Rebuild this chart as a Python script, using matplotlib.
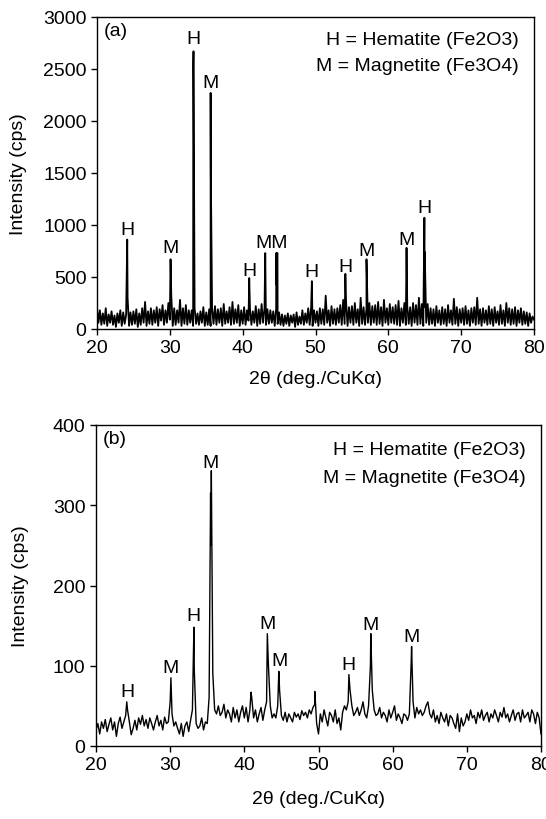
import numpy as np
import matplotlib
matplotlib.use("Agg")
import matplotlib.pyplot as plt

plt.rcParams['font.family'] = ['Liberation Sans', 'DejaVu Sans']

# ---------------- Panel (a) data ----------------
a_start, a_step = 20.0, 0.2
a_background = [
    210, 60, 180, 40, 150,   50, 200, 30, 140, 60,   170, 40, 130, 20, 150,   60, 180, 30, 160, 50,
    140, 300, 30, 160, 40,   170, 50, 190, 20, 150,  40, 200, 60, 260, 30,    170, 50, 200, 40, 180,
    60, 210, 30, 190, 80,    230, 40, 180, 60, 250,  90, 320, 30, 200, 40,    180, 60, 280, 30, 200,
    50, 230, 40, 180, 60,    180, 30, 200, 50, 150,  40, 170, 60, 210, 30,    160, 40, 190, 30, 200,
    50, 220, 40, 190, 60,    200, 30, 240, 50, 170,  60, 210, 40, 260, 50,    190, 60, 230, 30, 180,
    50, 210, 40, 180, 80,    200, 40, 170, 60, 220,  30, 190, 50, 240, 60,    200, 40, 190, 50, 180,
    60, 170, 30, 200, 50,    160, 40, 140, 30, 130,  50, 150, 30, 130, 60,    140, 20, 160, 40, 120,
    50, 180, 40, 150, 60,    200, 40, 210, 30, 180,  60, 170, 30, 200, 50,    190, 40, 320, 60, 180,
    30, 220, 50, 190, 40,    200, 60, 230, 40, 280,  50, 260, 30, 210, 60,    220, 40, 250, 60, 190,
    30, 300, 50, 210, 40,    200, 60, 250, 40, 220,  60, 230, 40, 260, 50,    210, 30, 280, 60, 200,
    40, 240, 60, 210, 50,    230, 40, 270, 30, 200,  60, 250, 40, 220, 50,    210, 30, 250, 60, 230,
    40, 300, 50, 240, 30,    210, 60, 240, 40, 200,  50, 190, 30, 220, 60,    180, 40, 210, 50, 190,
    30, 230, 60, 180, 40,    290, 50, 210, 30, 190,  60, 200, 40, 220, 50,    180, 30, 200, 60, 210,
    40, 300, 50, 190, 30,    200, 60, 180, 40, 220,  50, 190, 30, 210, 60,    170, 40, 230, 50, 180,
    30, 250, 60, 200, 40,    190, 50, 210, 30, 180,  60, 200, 40, 170, 50,    160, 30, 150, 60, 120,
    90,
]
a_peak_x = [24.15, 30.1, 33.22, 33.25, 35.6, 35.63, 40.9, 43.1,
            44.62, 44.68, 44.72, 44.78, 49.5, 54.1, 57.0, 62.5, 64.95, 65.0]
a_peak_y = [860, 670, 2540, 2670, 2270, 1480, 490, 730,
            730, 420, 730, 730, 460, 530, 670, 780, 1070, 740]
a_label_text = ['H', 'M', 'H', 'M', 'H', 'MM', 'H', 'H', 'M', 'M', 'H']
a_label_x = [24.2, 30.1, 33.2, 35.6, 40.9, 44.0, 49.5, 54.1, 57.0, 62.5, 65.0]
a_label_y = [960, 780, 2790, 2375, 560, 830, 550, 605, 750, 865, 1170]

# ---------------- Panel (b) data ----------------
b_start, b_step = 20.0, 0.25
b_background = [
    20, 28, 15, 30,  22, 33, 18, 27,  35, 20, 30, 12,  28, 36, 22, 30,
    38, 45, 30, 14,  22, 32, 20, 35,  27, 38, 25, 33,  22, 35, 28, 20,
    30, 38, 25, 32,  20, 36, 28, 30,  55, 40, 25, 30,  22, 15, 28, 12,
    25, 30, 18, 32,  45, 95, 28, 22,  25, 35, 20, 30,  28, 60, 250, 90,
    45, 40, 50, 38,  42, 52, 35, 45,  40, 30, 48, 35,  45, 30, 42, 50,
    35, 48, 30, 45,  60, 35, 45, 30,  40, 48, 32, 45,  55, 100, 50, 35,
    40, 35, 50, 70,  38, 32, 42, 30,  40, 35, 30, 42,  36, 40, 33, 44,
    38, 42, 35, 45,  40, 48, 52, 28,  15, 40, 30, 45,  35, 25, 42, 38,
    30, 45, 28, 35,  20, 42, 50, 45,  55, 70, 50, 38,  42, 48, 38, 45,
    55, 40, 35, 50,  100, 70, 45, 38, 40, 48, 35, 42,  38, 30, 45, 35,
    42, 50, 32, 40,  35, 28, 40, 38,  32, 40, 105, 55, 35, 48, 40, 45,
    38, 42, 50, 55,  40, 35, 45, 30,  38, 28, 42, 35,  30, 40, 25, 38,
    35, 28, 22, 40,  18, 35, 25, 30,  40, 32, 45, 35,  38, 28, 42, 35,
    45, 32, 38, 42,  30, 40, 35, 45,  38, 30, 42, 36,  48, 35, 40, 30,
    38, 45, 32, 40,  42, 30, 45, 35,  38, 42, 30, 45,  40, 28, 42, 35,
    15,
]
b_peak_x = [24.15, 30.1, 33.2, 35.45, 35.55, 40.9, 43.1, 44.65, 49.5, 54.1, 57.05, 62.55]
b_peak_y = [55, 85, 148, 315, 343, 67, 140, 93, 68, 89, 140, 124]
b_label_text = ['H', 'M', 'H', 'M', 'M', 'M', 'H', 'M', 'M']
b_label_x = [24.2, 30.1, 33.2, 35.5, 43.1, 44.8, 54.1, 57.0, 62.6]
b_label_y = [68, 98, 163, 353, 153, 106, 101, 152, 136]

legend_lines = ['H = Hematite (Fe2O3)', 'M = Magnetite (Fe3O4)']


def merged(start, step, bg, px, py):
    x = start + step * np.arange(len(bg))
    xs = np.concatenate([x, np.array(px)])
    ys = np.concatenate([np.array(bg, float), np.array(py, float)])
    order = np.argsort(xs, kind='stable')
    return xs[order], ys[order]


fig = plt.figure(figsize=(5.46, 8.2), dpi=100)
W, H = 546, 820


def make_axes(l, r, t, b):
    return fig.add_axes([l / W, 1 - b / H, (r - l) / W, (b - t) / H])


FS = 14

axa = make_axes(97, 534, 18, 330)
xa, ya = merged(a_start, a_step, a_background, a_peak_x, a_peak_y)
axa.plot(xa, ya, color='black', lw=1.3)
axa.set_xlim(20, 80)
axa.set_ylim(0, 3000)
axa.set_yticks(range(0, 3001, 500))
axa.set_xticks(range(20, 81, 10))
for t, x, y in zip(a_label_text, a_label_x, a_label_y):
    axa.text(x, y, t, ha='center', va='center', fontsize=FS)
axa.text(0.015, 0.985, '(a)', transform=axa.transAxes, ha='left', va='top', fontsize=FS)
axa.text(0.965, 0.929, legend_lines[0], transform=axa.transAxes, ha='right', va='center', fontsize=FS)
axa.text(0.965, 0.846, legend_lines[1], transform=axa.transAxes, ha='right', va='center', fontsize=FS)
axa.set_xlabel('2\u03b8 (deg./CuK\u03b1)', fontsize=FS, labelpad=10)
axa.set_ylabel('Intensity (cps)', fontsize=FS)
axa.yaxis.set_label_coords((27 - 97) / 437, 0.5)

axb = make_axes(96, 541, 426, 747)
xb, yb = merged(b_start, b_step, b_background, b_peak_x, b_peak_y)
axb.plot(xb, yb, color='black', lw=1.0)
axb.set_xlim(20, 80)
axb.set_ylim(0, 400)
axb.set_yticks(range(0, 401, 100))
axb.set_xticks(range(20, 81, 10))
for t, x, y in zip(b_label_text, b_label_x, b_label_y):
    axb.text(x, y, t, ha='center', va='center', fontsize=FS)
axb.text(0.015, 0.985, '(b)', transform=axb.transAxes, ha='left', va='top', fontsize=FS)
axb.text(0.965, 0.925, legend_lines[0], transform=axb.transAxes, ha='right', va='center', fontsize=FS)
axb.text(0.965, 0.838, legend_lines[1], transform=axb.transAxes, ha='right', va='center', fontsize=FS)
axb.set_xlabel('2\u03b8 (deg./CuK\u03b1)', fontsize=FS, labelpad=12)
axb.set_ylabel('Intensity (cps)', fontsize=FS)
axb.yaxis.set_label_coords((29 - 96) / 445, 0.5)

for ax in (axa, axb):
    ax.tick_params(axis='both', labelsize=FS, direction='out', length=4, width=1)
    for s in ax.spines.values():
        s.set_linewidth(1)

fig.savefig('out.png', dpi=100)
